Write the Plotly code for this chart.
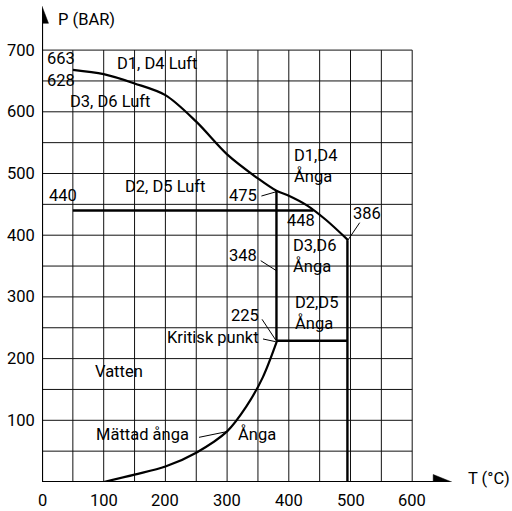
import plotly.graph_objects as go

# ---------------- data ----------------
luft_T = [50, 100, 150, 200, 250, 300, 350, 380, 400, 430, 460, 496]
luft_P = [668, 661, 646, 627, 584, 531, 492, 472, 464, 448, 425, 392]

sat_T = [100, 150, 200, 250, 300, 331, 358, 381]
sat_P = [0, 12, 25, 47.5, 82, 122, 170, 229]

# boundary segments (T0, P0, T1, P1)
bound_lines = [
    (50, 440, 440, 440),
    (380, 472, 380, 229),
    (380, 229, 495, 229),
    (495, 392, 495, 0),
]

x_ticks = [0, 100, 200, 300, 400, 500, 600]
y_ticks = [100, 200, 300, 400, 500, 600, 700]
grid_x = list(range(50, 601, 50))
grid_y = list(range(50, 701, 50))

# labels: text, T, P, anchor
labels = [
    ("663", 4.4, 686.7, "left"),
    ("628", 4.4, 650.4, "left"),
    ("D1, D4 Luft", 117.8, 678, "left"),
    ("D3, D6 Luft", 42.1, 616.9, "left"),
    ("D2, D5 Luft", 131.3, 478.6, "left"),
    ("440", 8.1, 463.9, "left"),
    ("475", 300.5, 463.9, "left"),
    ("448", 394.5, 423.3, "left"),
    ("386", 501.5, 434.4, "left"),
    ("D1,D4<br>Ånga", 405.8, 512.2, "left"),
    ("D3,D6<br>Ånga", 404.2, 366, "left"),
    ("D2,D5<br>Ånga", 406.8, 274, "left"),
    ("348", 299.8, 367.4, "left"),
    ("225", 303.1, 269.4, "left"),
    ("Kritisk punkt", 354.5, 233.4, "right"),
    ("Vatten", 82.7, 178.8, "left"),
    ("Mättad ånga", 83.8, 77, "left"),
    ("Ånga", 315, 77, "left"),
]

# leader lines (T0, P0, T1, P1)
leaders = [
    (355.6, 463.5, 379.9, 470.5),
    (514.9, 420.3, 495.9, 392.2),
    (354.5, 358.7, 379.9, 342.5),
    (356.6, 263.7, 378.8, 230.1),
    (358.2, 231.8, 378.8, 227.4),
    (254.5, 72.4, 298.9, 81.5),
]

X_END = 664
Y_END = 771

# ---------------- figure ----------------
PX = 0.617  # pixels per data unit
L, R, T, B = 42, 57, 4, 29
W, H = 512, 511
xr = [0, (W - L - R) / PX]
yr = [0, (H - T - B) / PX]

FONT = "Roboto"
FS = 16.5

fig = go.Figure()
shapes = []
for gx in grid_x:
    shapes.append(dict(type="line", x0=gx, x1=gx, y0=0, y1=700, xref="x", yref="y",
                       line=dict(color="#111111", width=1), layer="below"))
for gy in grid_y:
    shapes.append(dict(type="line", x0=0, x1=600, y0=gy, y1=gy, xref="x", yref="y",
                       line=dict(color="#111111", width=1), layer="below"))
# axes
shapes.append(dict(type="line", x0=0, x1=X_END - 15, y0=0, y1=0, line=dict(color="black", width=2.2)))
shapes.append(dict(type="line", x0=0, x1=0, y0=0, y1=Y_END - 15, line=dict(color="black", width=2.2)))
for (a, b, c, d) in bound_lines:
    shapes.append(dict(type="line", x0=a, y0=b, x1=c, y1=d, line=dict(color="black", width=2.4)))
for (a, b, c, d) in leaders:
    shapes.append(dict(type="line", x0=a, y0=b, x1=c, y1=d, line=dict(color="black", width=1)))

# arrow heads
alen, ahw = 18.5 / PX, 7.5 / PX
fig.add_trace(go.Scatter(x=[X_END, X_END - alen, X_END - alen, X_END], y=[0, ahw, -ahw, 0],
                         mode="lines", fill="toself", fillcolor="black",
                         line=dict(color="black", width=0.5), hoverinfo="skip", cliponaxis=False))
alen2, ahw2 = 17 / PX, 6.5 / PX
fig.add_trace(go.Scatter(x=[0, ahw2, -ahw2, 0], y=[Y_END, Y_END - alen2, Y_END - alen2, Y_END],
                         mode="lines", fill="toself", fillcolor="black",
                         line=dict(color="black", width=0.5), hoverinfo="skip", cliponaxis=False))

fig.add_trace(go.Scatter(x=luft_T, y=luft_P, mode="lines",
                         line=dict(color="black", width=2.2, shape="spline", smoothing=0.9),
                         hoverinfo="skip"))
fig.add_trace(go.Scatter(x=sat_T, y=sat_P, mode="lines",
                         line=dict(color="black", width=2.2, shape="spline", smoothing=0.9),
                         hoverinfo="skip"))

ann = []
for (t, x, y, anc) in labels:
    ann.append(dict(text=t, x=x, y=y, xref="x", yref="y", xanchor=anc, yanchor="middle",
                    showarrow=False, align="left", font=dict(family=FONT, size=FS, color="black")))
for v in x_ticks:
    ann.append(dict(text=str(v), x=v, y=0, xanchor="center", yanchor="middle", yshift=-18,
                    showarrow=False, font=dict(family=FONT, size=FS, color="black")))
for v in y_ticks:
    ann.append(dict(text=str(v), x=0, y=v, xanchor="right", yanchor="middle", xshift=-5,
                    showarrow=False, font=dict(family=FONT, size=FS, color="black")))
ann.append(dict(text="P (BAR)", x=0, y=Y_END, xanchor="left", yanchor="middle", xshift=14, yshift=-13,
                showarrow=False, font=dict(family=FONT, size=FS, color="black")))
ann.append(dict(text="T (°C)", x=X_END, y=0, xanchor="left", yanchor="middle", xshift=14, yshift=4,
                showarrow=False, font=dict(family=FONT, size=FS, color="black")))

fig.update_layout(
    width=W, height=H, autosize=False,
    margin=dict(l=L, r=R, t=T, b=B, pad=0),
    paper_bgcolor="white", plot_bgcolor="white",
    showlegend=False,
    shapes=shapes, annotations=ann,
    xaxis=dict(range=xr, visible=False, fixedrange=True),
    yaxis=dict(range=yr, visible=False, fixedrange=True),
)
fig.write_html("out.html", config={"displayModeBar": False, "staticPlot": True},
               post_script="document.body.style.margin='0';document.body.style.overflow='hidden';")
